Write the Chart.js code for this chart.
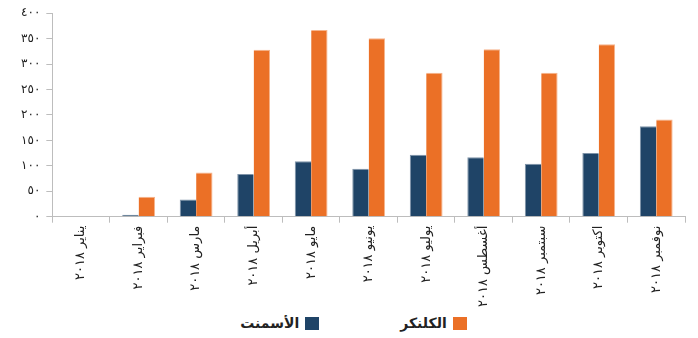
<!DOCTYPE html>
<html>
<head>
<meta charset="utf-8">
<script src="https://cdn.jsdelivr.net/npm/chart.js@4/dist/chart.umd.min.js"></script>
<style>
  html, body { margin: 0; padding: 0; background: #fff; }
  #wrap { width: 698px; height: 338px; position: relative; font-family: 'DejaVu Sans', sans-serif; }
  #chartBox { position: absolute; left: 0; top: 0; width: 698px; height: 310px; }
  #legend {
    position: absolute; left: 0; top: 312px; width: 698px; height: 22px;
    display: flex; direction: rtl; justify-content: center; align-items: center;
    gap: 81px; padding-left: 9px; box-sizing: border-box;
    font-size: 14px; font-weight: bold; color: #222;
  }
  #legend .item { display: flex; align-items: center; gap: 6px; }
  #legend .box { width: 14px; height: 13px; display: inline-block; }
</style>
</head>
<body>
<div id="wrap">
  <div id="chartBox"><canvas id="chart"></canvas></div>
  <div id="legend"></div>
</div>
<script>
// الأشهر والقيم
var months = ['يناير ٢٠١٨', 'فبراير ٢٠١٨', 'مارس ٢٠١٨', 'أبريل ٢٠١٨', 'مايو ٢٠١٨', 'يونيو ٢٠١٨',
              'يوليو ٢٠١٨', 'أغسطس ٢٠١٨', 'سبتمبر ٢٠١٨', 'اكتوبر ٢٠١٨', 'نوفمبر ٢٠١٨'];
var cementValues = [0, 4, 34, 84, 109, 94, 122, 117, 104, 125, 178];
var clinkerValues = [0, 39, 87, 328, 367, 351, 283, 329, 283, 339, 191];
var seriesNames = ['الأسمنت', 'الكلنكر'];

var blue = '#1F4467';
var orange = '#EB7026';

// أرقام عربية هندية
function toArabicDigits(n) {
    return String(n).replace(/[0-9]/g, function (d) { return '٠١٢٣٤٥٦٧٨٩'[d]; });
}

var fontFamily = "'DejaVu Sans', sans-serif";

var chart = new Chart(document.getElementById('chart'), {
    type: 'bar',
    data: {
        labels: months,
        datasets: [{
            label: seriesNames[0],
            data: cementValues,
            backgroundColor: blue,
            borderColor: '#7F93A8',
            borderWidth: { top: 1, left: 1 },
            categoryPercentage: 0.57,
            barPercentage: 1
        }, {
            label: seriesNames[1],
            data: clinkerValues,
            backgroundColor: orange,
            borderColor: '#F6B48C',
            borderWidth: { top: 1, right: 1 },
            categoryPercentage: 0.57,
            barPercentage: 1
        }]
    },
    options: {
        responsive: true,
        maintainAspectRatio: false,
        animation: false,
        layout: { padding: { top: 0, right: 13, left: 15, bottom: 0 } },
        plugins: {
            legend: { display: false },
            tooltip: { enabled: false }
        },
        scales: {
            x: {
                grid: { drawOnChartArea: false, color: '#BDBDBD', tickLength: 6 },
                border: { color: '#BDBDBD' },
                ticks: {
                    color: '#222',
                    minRotation: 90,
                    maxRotation: 90,
                    padding: 3,
                    font: { family: fontFamily, size: 13 }
                }
            },
            y: {
                min: 0,
                max: 400,
                grid: { drawOnChartArea: false, color: '#BDBDBD', tickLength: 6 },
                border: { color: '#BDBDBD' },
                ticks: {
                    stepSize: 50,
                    color: '#222',
                    padding: 6,
                    font: { family: fontFamily, size: 12 },
                    callback: function (v) { return toArabicDigits(v); }
                }
            }
        }
    }
});

// وسيلة الإيضاح (من اليمين إلى اليسار)
var legendEl = document.getElementById('legend');
chart.data.datasets.slice().reverse().forEach(function (ds) {
    var item = document.createElement('span');
    item.className = 'item';
    var box = document.createElement('span');
    box.className = 'box';
    box.style.background = ds.backgroundColor;
    var txt = document.createElement('span');
    txt.textContent = ds.label;
    item.appendChild(box);
    item.appendChild(txt);
    legendEl.appendChild(item);
});
</script>
</body>
</html>
